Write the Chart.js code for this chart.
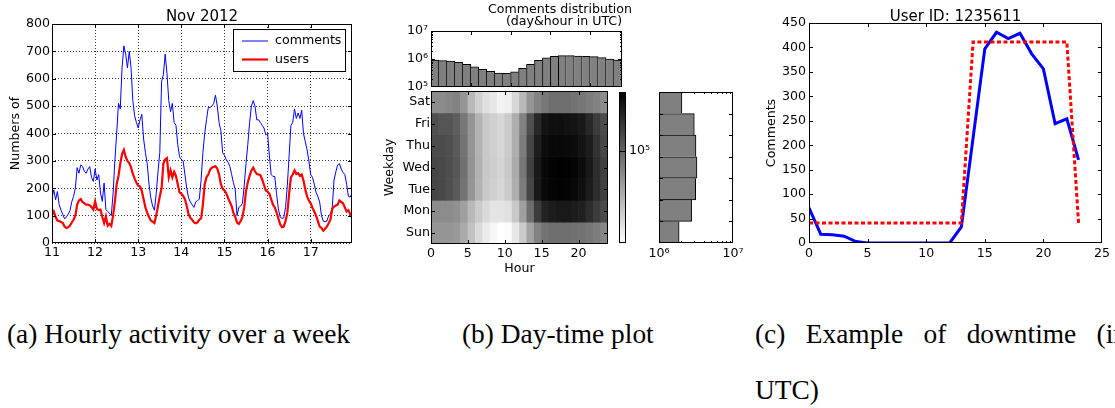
<!DOCTYPE html>
<html>
<head>
<meta charset="utf-8">
<script src="https://cdn.jsdelivr.net/npm/chart.js@4.4.1/dist/chart.umd.min.js"></script>
<style>
  html, body { margin: 0; padding: 0; background: #fff; }
  body { width: 1115px; height: 408px; position: relative; overflow: hidden; }
  canvas { position: absolute; left: 0; top: 0; }
  .cap { position: absolute; font-family: "Liberation Serif", serif; font-size: 27.4px; line-height: 27px; white-space: nowrap; color: #000; }
</style>
</head>
<body>
<canvas id="activity" width="1115" height="290"></canvas>
<canvas id="hourHist" width="1115" height="290"></canvas>
<canvas id="dayHour" width="1115" height="290"></canvas>
<canvas id="colourBar" width="1115" height="290"></canvas>
<canvas id="dayHist" width="1115" height="290"></canvas>
<canvas id="downtime" width="1115" height="290"></canvas>

<div class="cap" style="left:7px; top:321px;">(a) Hourly activity over a week</div>
<div class="cap" style="left:462px; top:321px;">(b) Day-time plot</div>
<div class="cap" style="left:755px; top:321px; width:372px; text-align:justify; text-align-last:justify;">(c) Example of downtime (in</div>
<div class="cap" style="left:755px; top:377px;">UTC)</div>

<script>
// hourly activity, 11-17 Nov 2012
const dayTicks = [11, 12, 13, 14, 15, 16, 17];
const countTicks = [0, 100, 200, 300, 400, 500, 600, 700, 800];
const commentsPerHour = [
  164, 194, 158, 188, 140, 120, 105, 88, 95, 105, 118, 150, 170, 200, 275, 255, 285, 280, 262, 255, 270, 279, 240, 225,
  270, 230, 250, 182, 152, 219, 122, 115, 109, 100, 180, 300, 400, 510, 490, 640, 720, 690, 640, 700, 640, 520, 465, 440,
  420, 450, 470, 380, 330, 290, 215, 165, 135, 120, 180, 260, 330, 590, 615, 690, 620, 520, 480, 510, 440, 430, 360, 315,
  305, 300, 250, 200, 165, 150, 140, 130, 150, 155, 160, 230, 330, 400, 450, 495, 495, 500, 510, 540, 500, 440, 410, 330,
  320, 305, 295, 280, 250, 220, 195, 100, 130, 135, 145, 210, 290, 360, 440, 500, 520, 500, 450, 450, 440, 430, 420, 395,
  400, 320, 250, 243, 243, 180, 125, 95, 90, 92, 130, 210, 320, 430, 440, 490, 455, 475, 455, 485, 400, 370, 340, 300,
  250, 240, 215, 185, 170, 150, 100, 80, 78, 80, 100, 105, 130, 230, 260, 285, 290, 270, 258, 250, 215, 170, 168, 182
];
const usersPerHour = [
  103, 115, 95, 82, 80, 77, 73, 60, 55, 57, 64, 75, 85, 100, 140, 155, 160, 150, 145, 140, 140, 138, 131, 122,
  152, 125, 120, 122, 95, 73, 97, 63, 70, 62, 100, 150, 215, 245, 290, 325, 340, 315, 300, 292, 276, 252, 235, 220,
  209, 207, 190, 160, 130, 110, 95, 82, 78, 73, 100, 135, 170, 200, 290, 305, 310, 240, 265, 240, 260, 245, 215, 185,
  180, 172, 160, 135, 105, 92, 85, 75, 72, 75, 85, 90, 140, 215, 240, 250, 268, 275, 278, 280, 272, 250, 215, 198,
  192, 182, 165, 150, 135, 110, 95, 75, 70, 80, 95, 130, 190, 222, 245, 265, 275, 262, 252, 250, 248, 232, 212, 192,
  188, 180, 160, 140, 130, 112, 90, 68, 58, 60, 80, 110, 180, 240, 250, 265, 252, 255, 245, 250, 228, 195, 170, 155,
  145, 128, 115, 100, 80, 60, 55, 45, 52, 60, 72, 85, 125, 133, 137, 140, 155, 150, 145, 130, 115, 120, 105, 100
];

// comments by weekday and hour (UTC), thousands
const weekdays = ['Sun', 'Mon', 'Tue', 'Wed', 'Thu', 'Fri', 'Sat'];
const hourTicks = [0, 5, 10, 15, 20];
const sunByHour = [68, 68, 68, 66, 58, 48, 40, 35, 32, 30, 31, 36, 45, 61, 79, 89, 92, 92, 92, 91, 89, 86, 82, 76];
const monByHour = [73, 73, 73, 71, 63, 52, 45, 40, 37, 37, 38, 46, 63, 92, 136, 165, 174, 178, 178, 174, 169, 153, 136, 121];
const tueByHour = [126, 124, 117, 108, 89, 68, 54, 46, 43, 41, 45, 56, 82, 126, 178, 203, 210, 213, 210, 203, 192, 174, 153, 131];
const wedByHour = [126, 124, 118, 110, 91, 69, 55, 46, 44, 42, 46, 58, 86, 131, 178, 203, 211, 216, 213, 208, 197, 178, 153, 131];
const thuByHour = [121, 121, 117, 108, 89, 68, 54, 46, 43, 41, 45, 56, 82, 126, 172, 197, 203, 203, 200, 197, 185, 172, 147, 126];
const friByHour = [117, 112, 112, 104, 86, 68, 54, 46, 43, 41, 45, 56, 79, 117, 159, 185, 192, 192, 188, 185, 178, 159, 136, 121];
const satByHour = [73, 73, 76, 79, 68, 52, 43, 38, 36, 33, 34, 41, 52, 68, 79, 86, 92, 92, 92, 89, 86, 82, 79, 73];
const hourTotals = [920e3, 870e3, 850e3, 760e3, 640e3, 530e3, 430e3, 360e3, 316e3, 310e3, 350e3, 460e3,
                    640e3, 900e3, 1090e3, 1240e3, 1320e3, 1320e3, 1280e3, 1240e3, 1210e3, 1120e3, 1000e3, 920e3];
const weekdayTotals = [1.87e6, 2.76e6, 3.13e6, 3.26e6, 3.16e6, 3.0e6, 2.04e6];
const colourMin = 3.0e4;
const colourMax = 2.16e5;

// one user's comments per hour, with the fitted active window
const userHours = [0, 1, 2, 3, 4, 5, 6, 7, 8, 9, 10, 11, 12, 13, 14, 15, 16, 17, 18, 19, 20, 21, 22, 23];
const userComments = [72, 18, 17, 14, 3, 0, 0, 0, 0, 0, 0, 0, 0, 33, 215, 397, 431, 418, 429, 387, 356, 244, 254, 170];
const userActiveFit = [41, 41, 41, 41, 41, 41, 41, 41, 41, 41, 41, 41, 41, 41, 411, 411, 411, 411, 411, 411, 411, 411, 411, 41];
const userHourTicks = [0, 5, 10, 15, 20, 25];
const userCountTicks = [0, 50, 100, 150, 200, 250, 300, 350, 400, 450];


const W = 1115, H = 290;
const YW = 48, XH = 22;   // room kept for tick labels beside / below each plot
const FONT = '"DejaVu Sans", sans-serif';
const TEXT = 12.6, TITLE = 15;
Chart.defaults.font.family = FONT;
Chart.defaults.font.size = TEXT;
Chart.defaults.color = '#000';
Chart.defaults.animation = false;
Chart.defaults.plugins.legend.display = false;
Chart.defaults.plugins.tooltip.enabled = false;

const sup = { 4: '⁴', 5: '⁵', 6: '⁶', 7: '⁷' };
const powerLabel = v => '10' + sup[Math.round(Math.log10(v))];

// plot box in page pixels -> layout padding (axes keep fixed sizes)
function box(l, t, r, b, yRight) {
  return {
    left: yRight ? l : l - YW,
    right: yRight ? W - r - YW : W - r,
    top: t,
    bottom: H - b - XH
  };
}
function fixedTicks(list) {
  return axis => { axis.ticks = list.map(v => (typeof v === 'object' ? { ...v } : { value: v })); };
}
function logTicks(lo, hi) {
  const out = [];
  for (let e = lo; e <= hi; e++) {
    out.push({ value: 10 ** e });
    if (e < hi) for (let m = 2; m <= 9; m++) out.push({ value: m * 10 ** e, minor: true });
  }
  return out;
}
const fitY = axis => { axis.width = YW; };
const fitX = axis => { axis.height = XH; };

function axis(extra) {
  const base = {
    grid: { display: false, drawTicks: false },
    border: { display: false },
    ticks: { autoSkip: false, maxRotation: 0, minRotation: 0, padding: 3 }
  };
  const out = { ...base, ...extra };
  out.ticks = { ...base.ticks, ...(extra.ticks || {}) };
  if (extra.grid) out.grid = { ...base.grid, ...extra.grid };
  if (extra.border) out.border = { ...base.border, ...extra.border };
  return out;
}

// black frame plus inward tick marks on all four sides
const frameTicks = {
  id: 'frameTicks',
  afterDatasetsDraw(chart) {
    const { ctx, chartArea: a } = chart;
    ctx.save();
    ctx.strokeStyle = '#000';
    ctx.lineWidth = 1;
    ctx.beginPath();
    Object.values(chart.scales).forEach(scale => {
      scale.ticks.forEach(t => {
        const len = t.minor ? 2 : 4;
        const p = Math.round(scale.getPixelForValue(t.value)) + 0.5;
        if (scale.isHorizontal()) {
          if (p <= a.left + 1 || p >= a.right - 1) return;
          ctx.moveTo(p, a.bottom); ctx.lineTo(p, a.bottom - len);
          ctx.moveTo(p, a.top); ctx.lineTo(p, a.top + len);
        } else {
          if (p <= a.top + 1 || p >= a.bottom - 1) return;
          ctx.moveTo(a.left, p); ctx.lineTo(a.left + len, p);
          ctx.moveTo(a.right, p); ctx.lineTo(a.right - len, p);
        }
      });
    });
    ctx.stroke();
    ctx.strokeRect(a.left + 0.5, a.top + 0.5, a.width - 1, a.height - 1);
    ctx.restore();
  }
};

// titles and axis names
function textLayer(items) {
  return {
    id: 'textLayer',
    afterDraw(chart) {
      const ctx = chart.ctx;
      items.forEach(t => {
        ctx.save();
        ctx.font = `${t.size || TEXT}px ${FONT}`;
        ctx.fillStyle = '#000';
        ctx.textAlign = 'center';
        ctx.textBaseline = t.baseline || 'alphabetic';
        ctx.translate(t.x, t.y);
        if (t.rotate) ctx.rotate(t.rotate);
        ctx.fillText(t.text, 0, 0);
        ctx.restore();
      });
    }
  };
}

// boxed legend in the upper right of the plot
const legendBox = {
  id: 'legendBox',
  afterDraw(chart) {
    const { ctx, chartArea: a } = chart;
    const x = a.right - 119, y = a.top + 5, w = 112, h = 42;
    ctx.save();
    ctx.fillStyle = '#fff';
    ctx.fillRect(x, y, w, h);
    ctx.strokeStyle = '#000';
    ctx.lineWidth = 1;
    ctx.strokeRect(x + 0.5, y + 0.5, w, h);
    ctx.font = `${TEXT}px ${FONT}`;
    ctx.textBaseline = 'middle';
    chart.data.datasets.forEach((ds, i) => {
      const ly = y + 12 + i * 18.5;
      ctx.strokeStyle = ds.borderColor;
      ctx.lineWidth = ds.borderWidth;
      ctx.beginPath();
      ctx.moveTo(x + 9, ly);
      ctx.lineTo(x + 35, ly);
      ctx.stroke();
      ctx.fillStyle = '#000';
      ctx.fillText(ds.label, x + 42, ly);
    });
    ctx.restore();
  }
};

function gray(v) {
  const t = Math.min(1, Math.max(0, Math.log(v / colourMin) / Math.log(colourMax / colourMin)));
  const g = Math.round(255 * (1 - t));
  return `rgb(${g},${g},${g})`;
}

// (a) comments and users per hour
new Chart(document.getElementById('activity'), {
  type: 'line',
  data: {
    datasets: [
      {
        label: 'comments',
        data: commentsPerHour.map((v, i) => ({ x: 11 + i / 24, y: v })),
        borderColor: '#0000ff', borderWidth: 1, pointRadius: 0, tension: 0, order: 1
      },
      {
        label: 'users',
        data: usersPerHour.map((v, i) => ({ x: 11 + i / 24, y: v })),
        borderColor: '#ff0000', borderWidth: 2.2, pointRadius: 0, tension: 0, order: 0
      }
    ]
  },
  options: {
    responsive: false, events: [],
    layout: { padding: box(52, 24, 352, 243) },
    scales: {
      x: axis({
        type: 'linear', min: 11, max: 11 + 167 / 24,
        afterBuildTicks: fixedTicks(dayTicks), afterFit: fitX,
        grid: { display: true, color: 'rgba(0,0,0,0.8)', lineWidth: 1, drawTicks: false },
        border: { display: false, dash: [1, 2] },
        ticks: { callback: v => String(v), padding: 2 }
      }),
      y: axis({
        type: 'linear', min: 0, max: 800,
        afterBuildTicks: fixedTicks(countTicks), afterFit: fitY,
        grid: { display: true, color: 'rgba(0,0,0,0.8)', lineWidth: 1, drawTicks: false },
        border: { display: false, dash: [1, 2] },
        ticks: { callback: v => String(v), padding: 2 }
      })
    }
  },
  plugins: [frameTicks, legendBox, textLayer([
    { text: 'Nov 2012', x: 202, y: 21, size: TITLE },
    { text: 'Numbers of', x: 15.5, y: 133.5, rotate: -Math.PI / 2, baseline: 'middle' }
  ])]
});

// (b) totals per hour, above the day-time map
new Chart(document.getElementById('hourHist'), {
  type: 'bar',
  data: {
    datasets: [{
      data: hourTotals.map((v, h) => ({ x: h + 0.5, y: v })),
      backgroundColor: '#808080',
      borderColor: '#000',
      borderWidth: ctx => {
        const i = ctx.dataIndex, d = hourTotals;
        return {
          top: 1, bottom: 0,
          left: (i === 0 || d[i] > d[i - 1]) ? 1 : 0,
          right: (i === d.length - 1 || d[i] >= d[i + 1]) ? 1 : 0
        };
      },
      barPercentage: 1, categoryPercentage: 1
    }]
  },
  options: {
    responsive: false, events: [],
    layout: { padding: box(431, 31, 622, 87) },
    scales: {
      x: axis({
        type: 'linear', min: 0, max: 24, offset: false,
        afterBuildTicks: fixedTicks(hourTicks), afterFit: fitX,
        ticks: { display: false }
      }),
      y: axis({
        type: 'logarithmic', min: 1e5, max: 1e7,
        afterBuildTicks: fixedTicks(logTicks(5, 7)), afterFit: fitY,
        ticks: { callback: (v, i, ts) => (ts[i].minor ? '' : powerLabel(v)), padding: 3 }
      })
    }
  },
  plugins: [frameTicks, textLayer([
    { text: 'Comments distribution', x: 560, y: 12.5 },
    { text: '(day&hour in UTC)', x: 564, y: 24.5 }
  ])]
});

// (b) weekday x hour map
const dayRows = [sunByHour, monByHour, tueByHour, wedByHour, thuByHour, friByHour, satByHour];
const cells = [];
dayRows.forEach((row, d) => row.forEach((v, h) => cells.push({ x: h + 0.5, y: [d, d + 1], v: v * 1000 })));

new Chart(document.getElementById('dayHour'), {
  type: 'bar',
  data: {
    datasets: [{
      data: cells,
      backgroundColor: cells.map(c => gray(c.v)),
      borderWidth: 0,
      barPercentage: 1, categoryPercentage: 1
    }]
  },
  options: {
    responsive: false, events: [],
    layout: { padding: box(431, 91, 608, 244) },
    scales: {
      x: axis({
        type: 'linear', min: 0, max: 24, offset: false,
        afterBuildTicks: fixedTicks(hourTicks), afterFit: fitX,
        ticks: { callback: v => String(v), padding: 2 }
      }),
      y: axis({
        type: 'linear', min: 0, max: 7,
        afterBuildTicks: fixedTicks(weekdays.map((_, i) => i + 0.5)), afterFit: fitY,
        ticks: { callback: v => weekdays[Math.floor(v)], padding: 1 }
      })
    }
  },
  plugins: [frameTicks, textLayer([
    { text: 'Hour', x: 519.5, y: 272 },
    { text: 'Weekday', x: 390, y: 167.5, rotate: -Math.PI / 2, baseline: 'middle' }
  ])]
});

// (b) colour scale of the map
new Chart(document.getElementById('colourBar'), {
  type: 'bar',
  data: {
    datasets: [{
      data: [{ x: 0.5, y: [colourMin, colourMax] }],
      backgroundColor: ctx => {
        const area = ctx.chart.chartArea;
        if (!area) return '#888';
        const g = ctx.chart.ctx.createLinearGradient(0, area.bottom, 0, area.top);
        g.addColorStop(0, gray(colourMin));
        g.addColorStop(1, gray(colourMax));
        return g;
      },
      borderWidth: 0, barPercentage: 1, categoryPercentage: 1
    }]
  },
  options: {
    responsive: false, events: [],
    layout: { padding: box(619, 92, 626, 243, true) },
    scales: {
      x: axis({ type: 'linear', min: 0, max: 1, offset: false,
        afterBuildTicks: fixedTicks([]), afterFit: fitX, ticks: { display: false } }),
      y: axis({
        type: 'logarithmic', position: 'right', min: colourMin, max: colourMax,
        afterBuildTicks: fixedTicks([1e5]), afterFit: fitY,
        ticks: { callback: v => powerLabel(v), padding: 3 }
      })
    }
  },
  plugins: [frameTicks]
});

// (b) totals per weekday
new Chart(document.getElementById('dayHist'), {
  type: 'bar',
  data: {
    datasets: [{
      data: weekdayTotals.map((v, d) => ({ x: v, y: d + 0.5 })),
      backgroundColor: '#808080',
      borderColor: '#000',
      borderWidth: ctx => {
        const i = ctx.dataIndex, d = weekdayTotals;
        return {
          right: 1, left: 0,
          bottom: (i === 0 || d[i] > d[i - 1]) ? 1 : 0,
          top: (i === d.length - 1 || d[i] >= d[i + 1]) ? 1 : 0
        };
      },
      barPercentage: 1, categoryPercentage: 1
    }]
  },
  options: {
    indexAxis: 'y',
    responsive: false, events: [],
    layout: { padding: box(659, 92, 733, 243) },
    scales: {
      x: axis({
        type: 'logarithmic', min: 1e6, max: 1e7,
        afterBuildTicks: fixedTicks(logTicks(6, 7)), afterFit: fitX,
        ticks: { callback: (v, i, ts) => (ts[i].minor ? '' : powerLabel(v)), padding: 3 }
      }),
      y: axis({
        type: 'linear', min: 0, max: 7, offset: false,
        afterBuildTicks: fixedTicks([0, 1, 2, 3, 4, 5, 6, 7]), afterFit: fitY,
        ticks: { display: false }
      })
    }
  },
  plugins: [frameTicks]
});

// (c) one user's hourly comments
new Chart(document.getElementById('downtime'), {
  type: 'line',
  data: {
    datasets: [
      {
        label: 'comments',
        data: userHours.map((h, i) => ({ x: h, y: userComments[i] })),
        borderColor: '#0000ff', borderWidth: 3, pointRadius: 0, tension: 0, order: 1
      },
      {
        label: 'active window',
        data: userHours.map((h, i) => ({ x: h, y: userActiveFit[i] })),
        borderColor: '#ff0000', borderWidth: 3, borderDash: [4, 2.5], pointRadius: 0, tension: 0, order: 0
      }
    ]
  },
  options: {
    responsive: false, events: [],
    layout: { padding: box(809, 23, 1102, 243) },
    scales: {
      x: axis({
        type: 'linear', min: 0, max: 25,
        afterBuildTicks: fixedTicks(userHourTicks), afterFit: fitX,
        ticks: { callback: v => String(v), padding: 3 }
      }),
      y: axis({
        type: 'linear', min: 0, max: 450,
        afterBuildTicks: fixedTicks(userCountTicks), afterFit: fitY,
        ticks: { callback: v => String(v), padding: 3 }
      })
    }
  },
  plugins: [frameTicks, textLayer([
    { text: 'User ID: 1235611', x: 955.5, y: 21, size: TITLE },
    { text: 'Comments', x: 772, y: 133, rotate: -Math.PI / 2, baseline: 'middle' }
  ])]
});
</script>
</body>
</html>
